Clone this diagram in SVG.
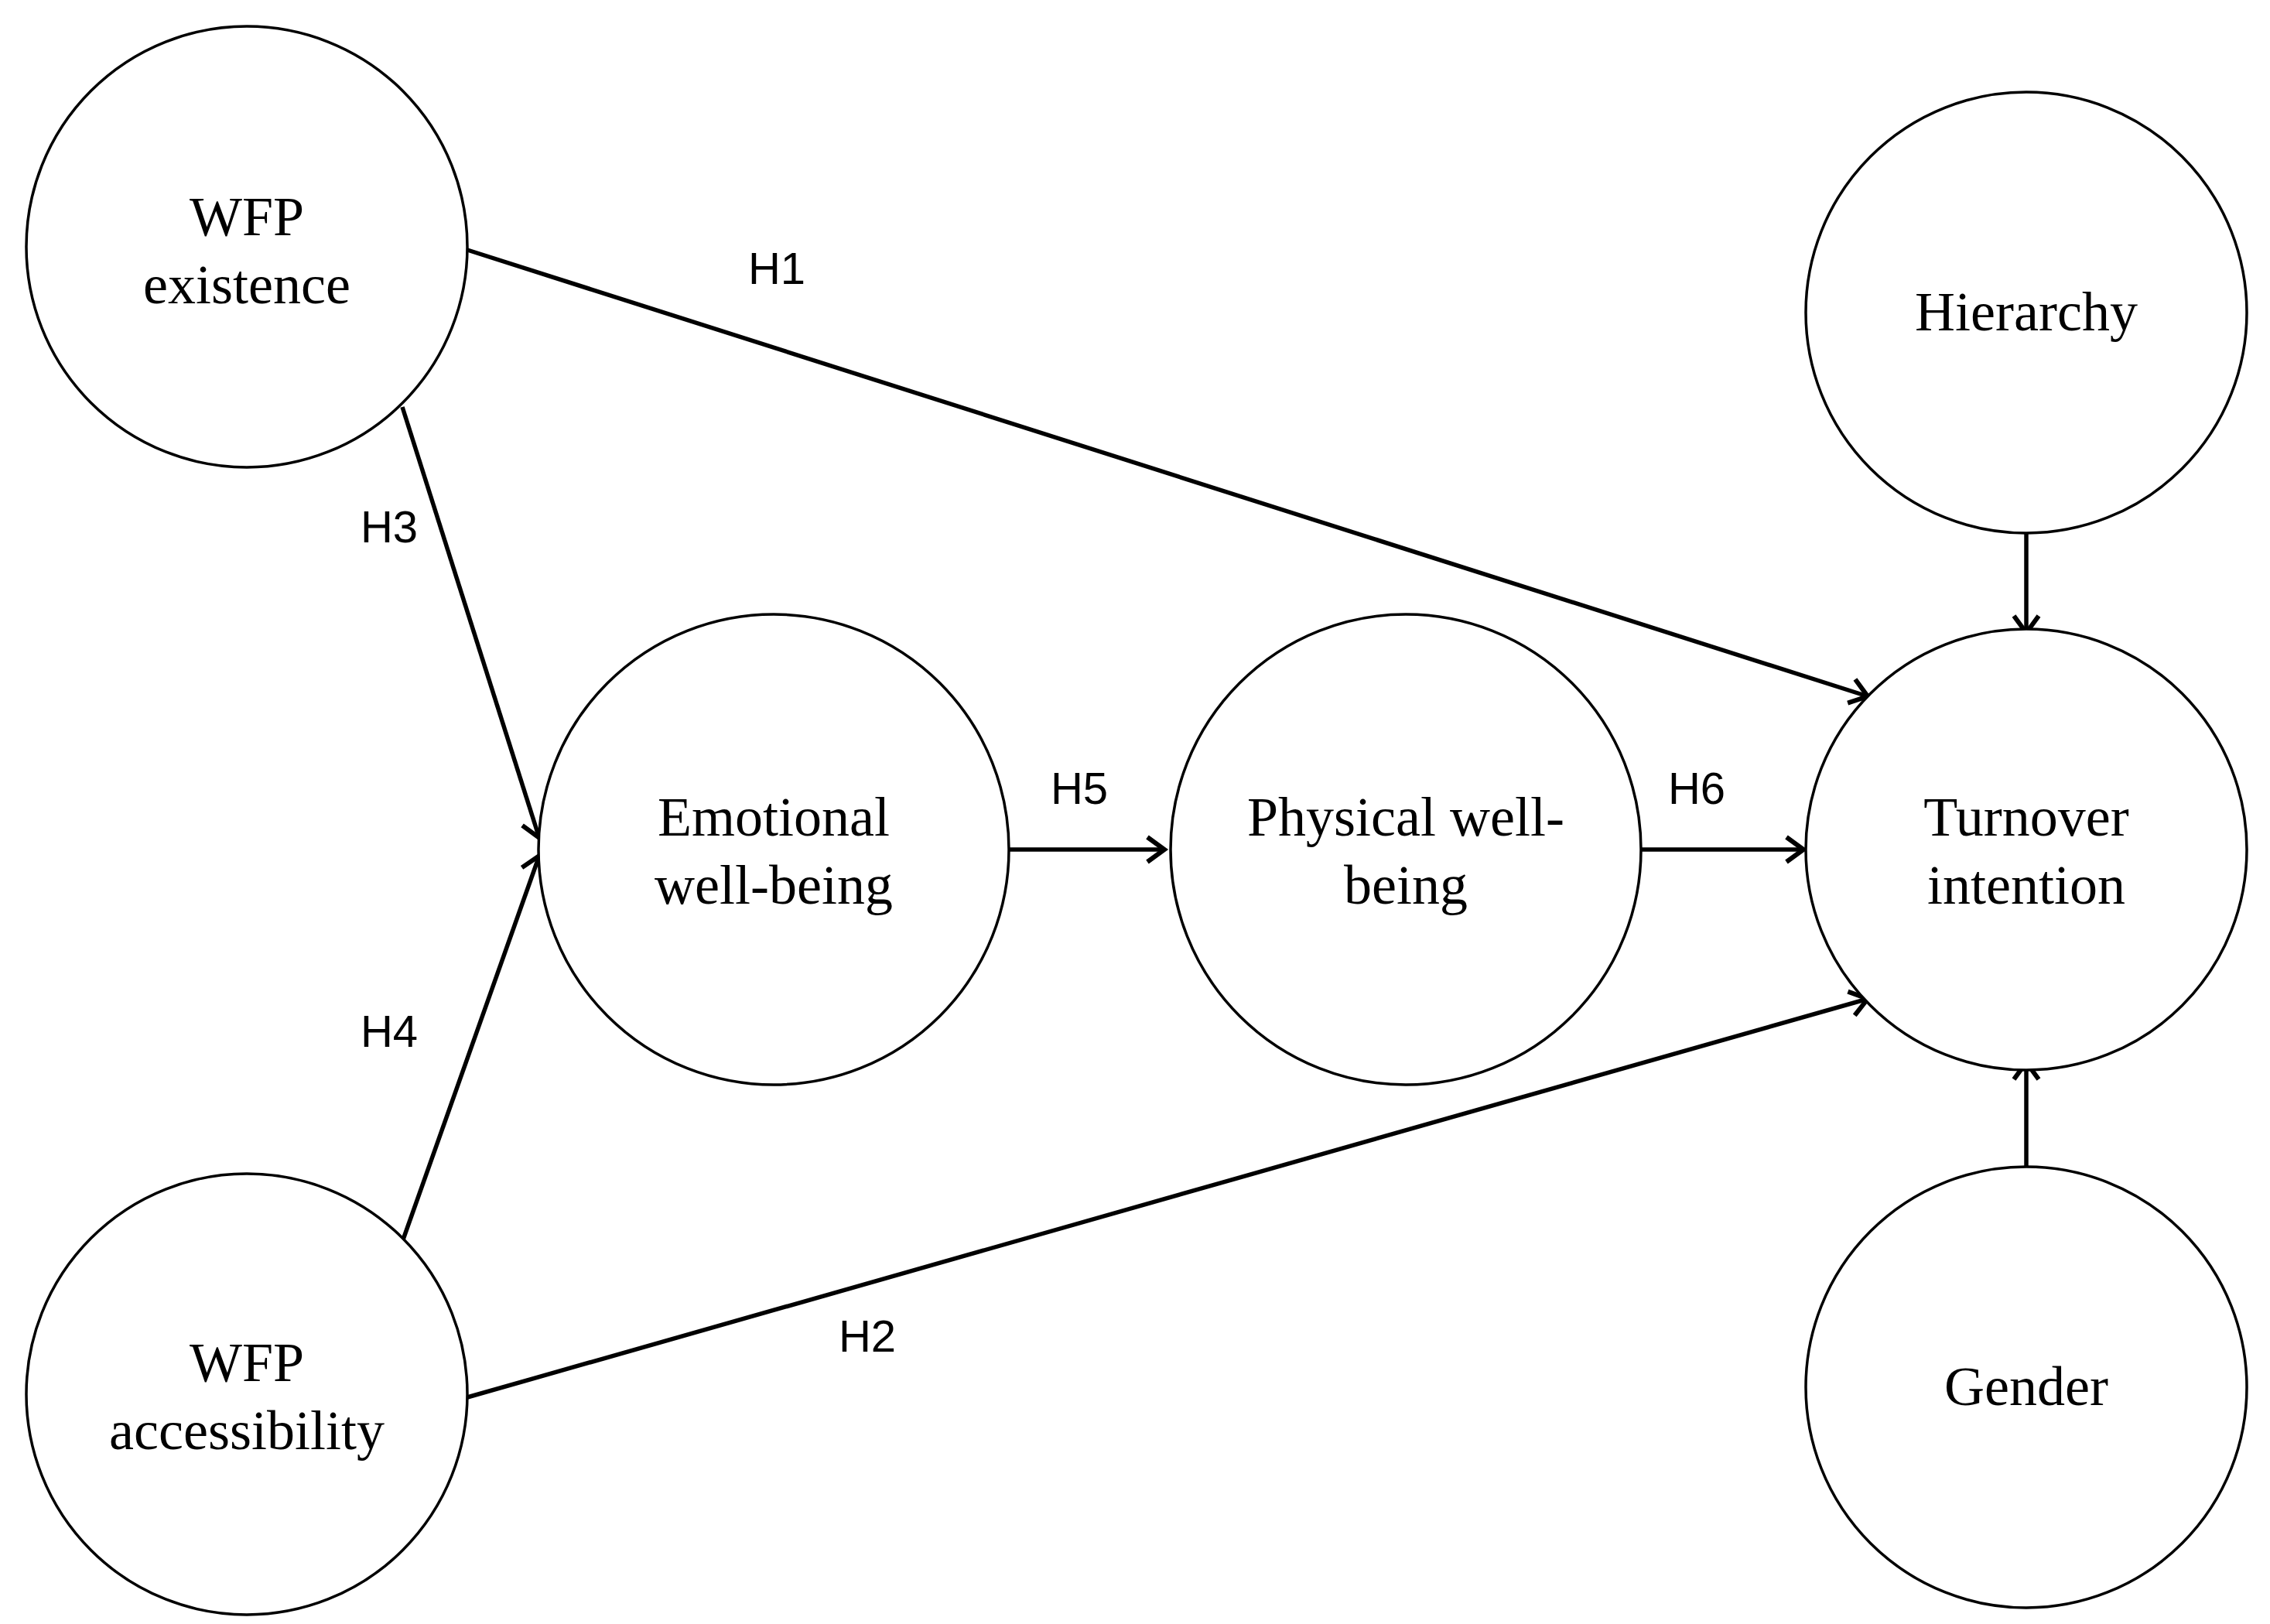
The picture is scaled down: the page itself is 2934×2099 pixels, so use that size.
<svg xmlns="http://www.w3.org/2000/svg" width="2934" height="2099" viewBox="0 0 2934 2099">
<style>
.n{fill:#fff;stroke:#000;stroke-width:3.5}
.t{font-family:"Liberation Serif",serif;font-size:72px;text-anchor:middle;fill:#000}
.l{font-family:"Liberation Sans",sans-serif;font-size:58px;text-anchor:middle;fill:#000}
.c line{stroke:#000;stroke-width:5.5;marker-end:url(#a)}
</style>
<defs><marker id="a" markerUnits="userSpaceOnUse" markerWidth="40" markerHeight="40" viewBox="-30 -20 40 40" refX="0" refY="0" orient="auto" style="overflow:visible"><path d="M-22,-16 L0,0 L-22,16" fill="none" stroke="#000" stroke-width="6"/></marker></defs>
<rect width="2934" height="2099" fill="#fff"/>
<g class="c" id="connectors">
<line x1="604" y1="323" x2="2414" y2="900"/>
<line x1="520" y1="526" x2="697" y2="1083"/>
<line x1="520" y1="1605" x2="697" y2="1106"/>
<line x1="604" y1="1806" x2="2414" y2="1291"/>
<line x1="1305" y1="1098" x2="1505" y2="1098"/>
<line x1="2121" y1="1098" x2="2331" y2="1098"/>
<line x1="2619" y1="680" x2="2619" y2="818"/>
<line x1="2619" y1="1511" x2="2619" y2="1373"/>
</g>
<g class="l">
<text x="1004" y="367">H1</text><text x="503" y="701">H3</text><text x="503" y="1353">H4</text>
<text x="1121" y="1747">H2</text><text x="1395" y="1039">H5</text><text x="2193" y="1039">H6</text>
</g>
<g id="wfp-existence"><circle class="n" cx="319" cy="319" r="285"/><text class="t" x="319" y="304">WFP</text><text class="t" x="319" y="392">existence</text></g>
<g id="hierarchy"><circle class="n" cx="2619" cy="404" r="285"/><text class="t" x="2619" y="427">Hierarchy</text></g>
<g id="emotional"><circle class="n" cx="1000" cy="1098" r="304"/><text class="t" x="1000" y="1080">Emotional</text><text class="t" x="1000" y="1168">well-being</text></g>
<g id="physical"><circle class="n" cx="1817" cy="1098" r="304"/><text class="t" x="1817" y="1080">Physical well-</text><text class="t" x="1817" y="1168">being</text></g>
<g id="turnover"><circle class="n" cx="2619" cy="1098" r="285"/><text class="t" x="2619" y="1080">Turnover</text><text class="t" x="2619" y="1168">intention</text></g>
<g id="wfp-accessibility"><circle class="n" cx="319" cy="1802" r="285"/><text class="t" x="319" y="1785">WFP</text><text class="t" x="319" y="1873">accessibility</text></g>
<g id="gender"><circle class="n" cx="2619" cy="1793" r="285"/><text class="t" x="2619" y="1816">Gender</text></g>
</svg>
